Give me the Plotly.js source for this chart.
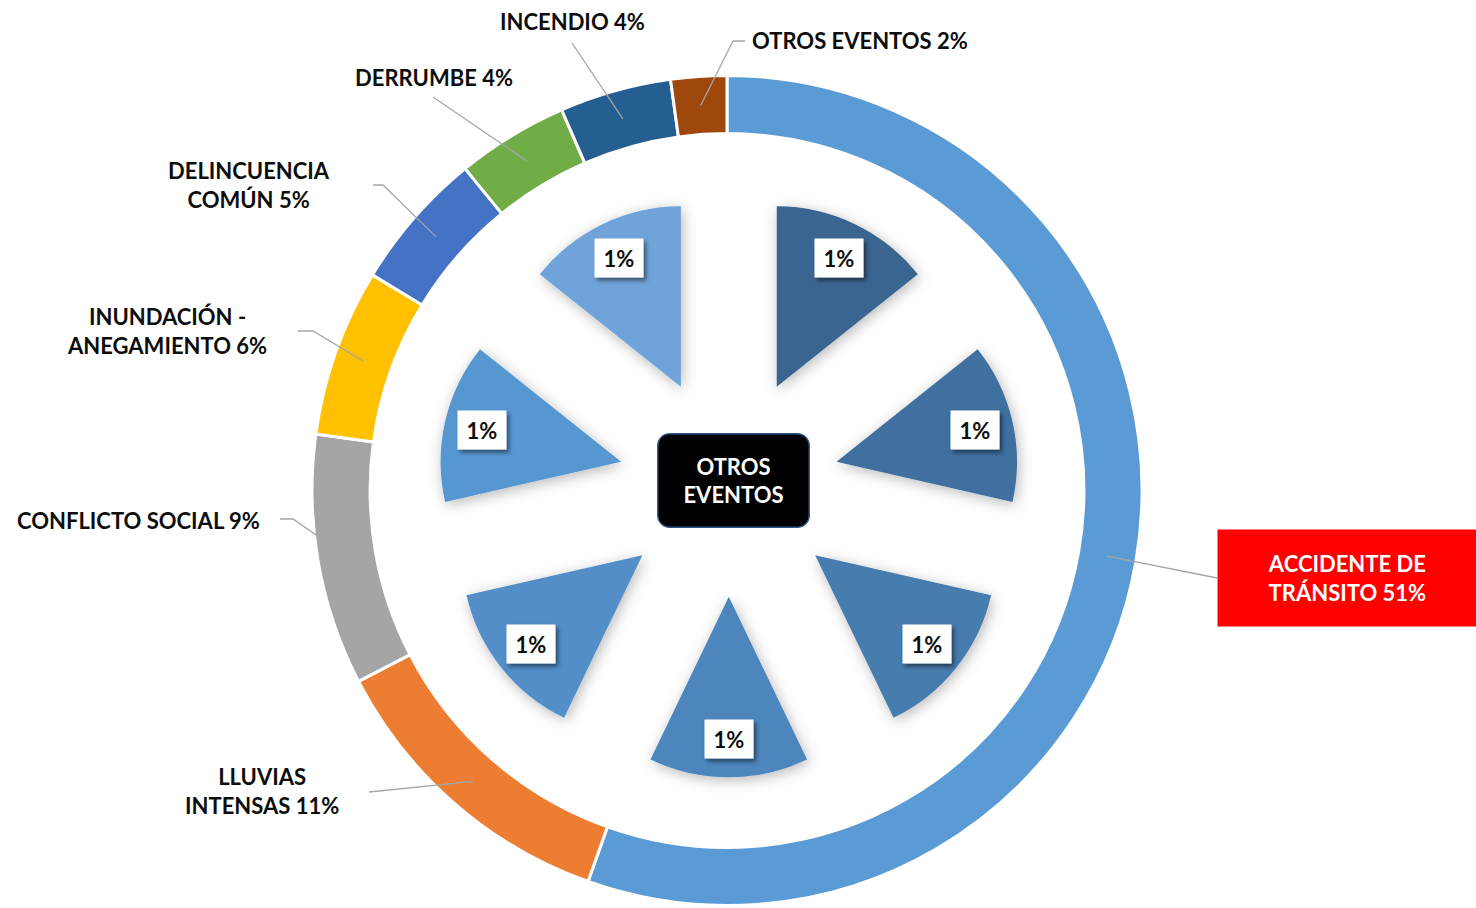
<!DOCTYPE html>
<html>
<head>
<meta charset="utf-8">
<script src="https://cdn.plot.ly/plotly-3.0.1.min.js"></script>
<style>
  html, body { margin: 0; padding: 0; background: #fff; }
  #chart { width: 1476px; height: 908px; }
  .pielayer .trace:nth-of-type(2) path.surface { filter: url(#wedgeShadow); }
</style>
</head>
<body>
<svg style="position:absolute;width:0;height:0;overflow:hidden" aria-hidden="true">
  <defs>
    <filter id="wedgeShadow" x="-40%" y="-40%" width="180%" height="180%">
      <feDropShadow dx="2" dy="3" stdDeviation="7" flood-color="#000" flood-opacity="0.28"/>
    </filter>
    <filter id="boxShadow" x="-30%" y="-30%" width="170%" height="170%">
      <feDropShadow dx="2.5" dy="3" stdDeviation="2" flood-color="#000" flood-opacity="0.5"/>
    </filter>
  </defs>
</svg>
<div id="chart"></div>
<script>
// ---------------- DATA ----------------
const outerLabels = ['ACCIDENTE DE TRÁNSITO', 'LLUVIAS INTENSAS', 'CONFLICTO SOCIAL', 'INUNDACIÓN - ANEGAMIENTO',
                     'DELINCUENCIA COMÚN', 'DERRUMBE', 'INCENDIO', 'OTROS EVENTOS'];
const outerDisplay = ['ACCIDENTE DE<br>TRÁNSITO', 'LLUVIAS<br>INTENSAS', 'CONFLICTO SOCIAL', 'INUNDACIÓN -<br>ANEGAMIENTO',
                      'DELINCUENCIA<br>COMÚN', 'DERRUMBE', 'INCENDIO', 'OTROS EVENTOS'];
const outerValues = [51, 11, 9, 6, 5, 4, 4, 2];

const innerLabels = ['Otro evento 1', 'Otro evento 2', 'Otro evento 3', 'Otro evento 4',
                     'Otro evento 5', 'Otro evento 6', 'Otro evento 7'];
const innerValues = [1, 1, 1, 1, 1, 1, 1];

const centerTitle = 'OTROS<br>EVENTOS';

// ---------------- STYLE ----------------
const W = 1476, H = 908;
const FONT = 'Lato, "Open Sans", sans-serif';
const outerColors = ['#5b9bd5', '#ed7d31', '#a5a5a5', '#ffc000', '#4472c4', '#70ad47', '#255e91', '#9e480e'];
const innerColors = ['#3a6591', '#40709f', '#477bae', '#4d86bd', '#528ec8', '#5797d2', '#6fa3da'];

// outer ring geometry (px)
const OUT_CX = 727, OUT_CY = 490.5, OUT_R = 415, OUT_HOLE = 0.86;
// inner pulled pie geometry (px)
const IN_CX = 728.8, IN_CY = 486.3, IN_R = 180.5, IN_PULL = 0.612, IN_LABEL_R = 253;

// label placement for the outer ring (px): text centre, leader start, optional elbow
const outerLabelPos = [
  {x: 1347, y: 578, from: [1217, 578], elbow: null},
  {x: 262, y: 791, from: [369, 792], elbow: null},
  {x: 138, y: 520, from: [280, 519], elbow: [293, 519]},
  {x: 167, y: 331, from: [298, 331], elbow: [313, 331]},
  {x: 249, y: 185, from: [373, 185], elbow: [383, 185]},
  {x: 434, y: 77, from: [433, 97], elbow: null},
  {x: 572, y: 22, from: [572, 43], elbow: null},
  {x: 860, y: 41, from: [745, 41], elbow: [733, 41]}
];

const px = v => v / W;
const py = v => 1 - v / H;

function midAngles(values) {
  const total = values.reduce((a, b) => a + b, 0);
  let cum = 0;
  return values.map(v => {
    const a = (cum + v / 2) / total * 2 * Math.PI;
    cum += v;
    return a;
  });
}

const outerHalf = OUT_R;
const innerHalf = IN_R * (1 + IN_PULL);

const traceOuter = {
  type: 'pie',
  labels: outerLabels,
  values: outerValues,
  sort: false,
  direction: 'clockwise',
  rotation: 0,
  hole: OUT_HOLE,
  marker: {colors: outerColors, line: {color: '#ffffff', width: 3}},
  textinfo: 'none',
  hoverinfo: 'label+percent',
  domain: {x: [px(OUT_CX - outerHalf), px(OUT_CX + outerHalf)],
           y: [py(OUT_CY + outerHalf), py(OUT_CY - outerHalf)]}
};

const traceInner = {
  type: 'pie',
  labels: innerLabels,
  values: innerValues,
  sort: false,
  direction: 'clockwise',
  rotation: 0,
  pull: innerValues.map(() => IN_PULL),
  marker: {colors: innerColors, line: {width: 0}},
  textinfo: 'none',
  hoverinfo: 'label+percent',
  domain: {x: [px(IN_CX - innerHalf), px(IN_CX + innerHalf)],
           y: [py(IN_CY + innerHalf), py(IN_CY - innerHalf)]}
};

const annotations = [];
const shapes = [];

// outer labels + leader lines
const outerMid = midAngles(outerValues);
const ringMidR = OUT_R * (1 + OUT_HOLE) / 2;
outerValues.forEach((v, i) => {
  const pos = outerLabelPos[i];
  const txt = outerDisplay[i] + ' ' + v + '%';
  const isMain = i === 0;
  const ann = {
    xref: 'paper', yref: 'paper',
    x: px(pos.x), y: py(pos.y),
    xanchor: 'center', yanchor: 'middle',
    text: txt, showarrow: false, align: 'center',
    font: {family: FONT, size: 22, color: isMain ? '#ffffff' : '#0d0d0d', weight: 'bold'}
  };
  if (isMain) {
    ann.bgcolor = '#ff0000';
    ann.width = 258; ann.height = 96;
    ann.borderpad = 0;
  }
  annotations.push(ann);
  const a = outerMid[i];
  const ex = OUT_CX + ringMidR * Math.sin(a);
  const ey = OUT_CY - ringMidR * Math.cos(a);
  let path = 'M ' + px(pos.from[0]) + ',' + py(pos.from[1]);
  if (pos.elbow) path += ' L ' + px(pos.elbow[0]) + ',' + py(pos.elbow[1]);
  path += ' L ' + px(ex) + ',' + py(ey);
  shapes.push({type: 'path', xref: 'paper', yref: 'paper', path: path,
               line: {color: '#a6a6a6', width: 1.3}, layer: 'above'});
});

// inner labels (1%)
const innerTotal = innerValues.reduce((a, b) => a + b, 0);
const innerMid = midAngles(innerValues);
const innerBoxStart = annotations.length;
innerValues.forEach((v, i) => {
  const a = innerMid[i];
  const pct = Math.round(v / innerTotal * 100 * 0 + v) + '%';
  annotations.push({
    xref: 'paper', yref: 'paper',
    x: px(IN_CX + IN_LABEL_R * Math.sin(a)), y: py(IN_CY - IN_LABEL_R * Math.cos(a)),
    xanchor: 'center', yanchor: 'middle',
    text: pct, showarrow: false,
    bgcolor: '#ffffff', borderpad: 4, width: 40, height: 30,
    font: {family: FONT, size: 22, color: '#0d0d0d', weight: 'bold'}
  });
});

// centre title
const centerIdx = annotations.length;
annotations.push({
  xref: 'paper', yref: 'paper',
  x: px(IN_CX), y: py(IN_CY), xshift: 5, yshift: 6,
  xanchor: 'center', yanchor: 'middle',
  text: centerTitle, showarrow: false, align: 'center',
  bgcolor: '#000000', bordercolor: '#2f5a88', borderwidth: 1.5, borderpad: 3,
  width: 144, height: 86,
  font: {family: FONT, size: 22, color: '#ffffff', weight: 'bold'}
});

const layout = {
  width: W, height: H,
  margin: {l: 0, r: 0, t: 0, b: 0},
  paper_bgcolor: '#ffffff',
  plot_bgcolor: '#ffffff',
  showlegend: false,
  annotations: annotations,
  shapes: shapes
};

const gd = document.getElementById('chart');
Plotly.newPlot(gd, [traceOuter, traceInner], layout, {displayModeBar: false, staticPlot: true}).then(() => {
  const decorate = () => {
    const anns = gd.querySelectorAll('.annotation');
    anns.forEach(g => {
      const idx = +g.getAttribute('data-index');
      const bg = g.querySelector('rect.bg');
      if (!bg) return;
      if (idx >= innerBoxStart && idx < innerBoxStart + innerValues.length) {
        bg.setAttribute('filter', 'url(#boxShadow)');
      }
      if (idx === centerIdx) {
        bg.setAttribute('rx', 12);
        bg.setAttribute('ry', 12);
      }
    });
  };
  decorate();
  gd.on('plotly_afterplot', decorate);
});
</script>
</body>
</html>
